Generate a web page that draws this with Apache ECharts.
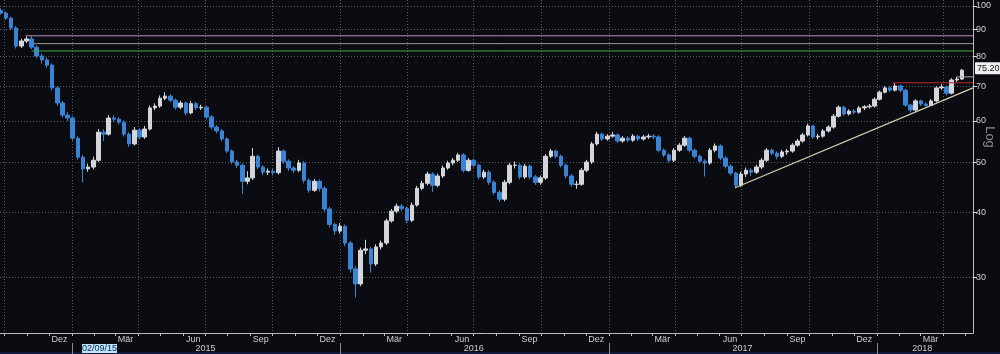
<!DOCTYPE html>
<html>
<head>
<meta charset="utf-8">
<title>Kursverlauf 2014-2018</title>
<script src="https://cdn.jsdelivr.net/npm/echarts@6.0.0/dist/echarts.min.js"></script>
<style>
  html, body { margin: 0; padding: 0; background: #0b0b12; }
  #chart { width: 1000px; height: 354px; }
</style>
</head>
<body>
<div id="chart"></div>
<script>
// Wochenkerzen, erste Woche ab 26.09.2014
const firstWeek = '2014-09-26';
const firstOpen = 98.0;
const closes = [
  96.9, 94.8, 90.7, 83.7, 85.6, 86.4, 83.3, 80.1, 78.7, 76.9,
  69.5, 65.0, 61.6, 60.8, 55.6, 51.1, 48.5, 48.9, 50.4, 57.1,
  56.6, 60.8, 60.5, 59.7, 56.6, 54.2, 57.6, 55.9, 57.9, 63.6,
  64.1, 66.4, 67.0, 65.8, 63.8, 65.0, 62.2, 64.8, 63.6, 63.8,
  61.1, 58.4, 57.4, 55.4, 52.5, 50.0, 49.3, 45.9, 46.6, 51.3,
  48.9, 47.8, 48.0, 47.7, 52.5, 50.2, 48.7, 48.2, 49.8, 46.1,
  44.1, 45.9, 44.5, 40.6, 37.9, 36.8, 37.6, 34.9, 31.1, 29.1,
  33.8, 34.0, 31.8, 34.3, 34.9, 38.5, 40.2, 41.1, 40.7, 38.6,
  41.3, 44.5, 45.5, 47.4, 45.1, 47.0, 48.7, 49.8, 50.4, 51.6,
  48.2, 50.4, 49.3, 46.8, 47.8, 45.7, 43.7, 42.4, 45.7, 49.3,
  49.3, 46.8, 49.1, 46.8, 45.7, 46.6, 51.3, 52.5, 51.3, 49.3,
  47.0, 45.3, 45.3, 48.2, 50.0, 54.2, 56.6, 55.4, 56.1, 56.4,
  54.9, 55.6, 55.1, 56.1, 55.4, 55.9, 56.1, 55.9, 52.7, 51.6,
  50.4, 52.7, 53.9, 55.6, 52.7, 51.3, 50.2, 49.8, 52.7, 53.7,
  50.9, 49.1, 47.6, 45.1, 47.4, 48.2, 47.8, 48.9, 50.4, 52.7,
  52.0, 51.3, 52.3, 52.5, 53.9, 54.9, 56.4, 58.7, 55.9, 56.1,
  57.4, 58.4, 61.3, 63.8, 61.9, 62.7, 62.4, 63.6, 63.9, 64.1,
  66.1, 68.2, 69.5, 68.8, 70.1, 68.8, 64.4, 63.0, 65.6, 64.7,
  64.3, 65.6, 69.5, 69.8, 67.9, 72.0, 72.3, 75.2
];
const lows = [
  96.2, 94.0, 89.9, 82.8, 83.0, 84.8, 82.6, 79.3, 77.4, 76.0,
  68.7, 64.2, 60.9, 60.0, 55.0, 50.5, 45.7, 47.9, 48.4, 50.0,
  54.9, 56.2, 59.8, 59.1, 56.0, 53.5, 53.8, 55.3, 55.4, 57.5,
  63.0, 63.6, 65.8, 65.2, 63.1, 63.2, 61.5, 61.8, 63.0, 63.0,
  60.4, 57.8, 56.8, 54.8, 52.0, 49.5, 48.7, 43.4, 45.3, 46.2,
  48.4, 47.2, 47.2, 47.1, 47.3, 49.6, 48.1, 47.6, 47.8, 45.5,
  43.6, 43.8, 43.9, 40.1, 37.4, 36.2, 36.4, 34.4, 30.6, 27.4,
  28.8, 33.2, 30.6, 31.5, 33.9, 34.6, 38.2, 39.8, 40.2, 38.1,
  38.3, 41.0, 44.1, 45.1, 43.8, 44.7, 46.6, 48.3, 49.3, 50.0,
  47.7, 47.9, 48.8, 46.3, 46.4, 45.2, 43.2, 41.9, 42.0, 45.3,
  48.6, 46.3, 46.4, 46.3, 45.2, 45.2, 46.2, 50.9, 50.8, 48.8,
  46.5, 44.8, 44.4, 45.0, 47.8, 49.6, 53.8, 54.9, 55.0, 55.7,
  54.4, 54.5, 54.6, 54.7, 54.9, 55.0, 55.4, 55.3, 52.2, 51.1,
  49.9, 50.0, 52.3, 53.5, 52.2, 50.8, 49.7, 46.9, 49.4, 52.2,
  50.4, 48.6, 47.1, 44.5, 44.8, 46.8, 47.0, 47.4, 48.5, 50.0,
  51.5, 50.6, 50.9, 51.6, 52.1, 53.5, 54.5, 56.0, 55.4, 55.3,
  55.7, 57.0, 58.0, 60.9, 61.4, 61.5, 61.8, 62.0, 63.0, 63.4,
  63.7, 65.7, 67.8, 68.2, 68.4, 68.2, 63.9, 62.3, 62.6, 64.1,
  64.0, 64.2, 65.2, 68.9, 67.2, 67.5, 71.4, 72.0
];
const highs = [
  99.0, 97.6, 95.3, 91.4, 86.5, 87.4, 87.6, 83.9, 81.0, 79.6,
  77.5, 70.1, 65.6, 62.5, 61.3, 56.1, 51.6, 49.6, 51.2, 57.9,
  57.8, 61.6, 61.5, 61.0, 60.2, 57.1, 58.4, 58.1, 58.7, 64.3,
  64.9, 67.2, 68.2, 67.6, 66.3, 65.7, 65.4, 65.6, 65.3, 64.5,
  64.2, 61.6, 58.9, 57.9, 55.8, 52.9, 50.5, 49.7, 48.0, 53.2,
  51.7, 49.3, 48.6, 48.5, 53.4, 52.9, 50.6, 49.1, 50.5, 50.2,
  46.5, 46.4, 46.3, 44.9, 41.0, 38.2, 38.1, 37.9, 35.2, 31.5,
  34.2, 35.4, 34.3, 34.7, 35.3, 38.9, 40.6, 41.6, 41.5, 41.0,
  41.8, 45.0, 46.0, 47.9, 47.8, 47.5, 49.2, 50.3, 50.9, 52.1,
  52.0, 50.9, 50.8, 49.7, 48.3, 48.2, 46.1, 44.1, 46.2, 49.8,
  50.1, 49.7, 49.6, 49.5, 47.2, 47.1, 51.8, 53.0, 52.9, 51.7,
  49.7, 47.4, 46.0, 48.7, 50.5, 54.7, 57.2, 57.0, 56.6, 57.2,
  56.8, 56.1, 56.1, 56.6, 56.5, 56.4, 56.7, 56.6, 56.3, 53.1,
  52.0, 53.2, 54.4, 56.1, 56.0, 53.1, 51.7, 50.6, 53.2, 54.3,
  54.1, 51.3, 49.5, 47.9, 47.9, 48.8, 48.7, 49.4, 50.9, 53.2,
  53.1, 52.4, 52.8, 53.0, 54.4, 55.4, 56.9, 59.3, 59.0, 56.7,
  57.9, 58.9, 61.9, 64.3, 64.2, 63.2, 63.3, 64.1, 64.4, 64.7,
  66.6, 68.7, 70.0, 70.1, 71.0, 70.5, 69.2, 64.8, 66.1, 66.0,
  65.2, 66.1, 70.0, 70.7, 70.2, 72.6, 73.0, 75.6
];

// Achsen
const xStart = '2014-09-25';
const xEnd = '2018-05-12';
const yMinPrice = 23.4;
const yMaxPrice = 102.7;
const yTicks = [30, 40, 50, 60, 70, 80, 90, 100];
const quarterStarts = [
  '2014-10-01', '2015-01-01', '2015-04-01', '2015-07-01', '2015-10-01',
  '2016-01-01', '2016-04-01', '2016-07-01', '2016-10-01',
  '2017-01-01', '2017-04-01', '2017-07-01', '2017-10-01',
  '2018-01-01', '2018-04-01'
];
const monthLabels = [
  ['2014-12-15', 'Dez'],
  ['2015-03-15', 'Mär'], ['2015-06-15', 'Jun'], ['2015-09-15', 'Sep'], ['2015-12-15', 'Dez'],
  ['2016-03-15', 'Mär'], ['2016-06-15', 'Jun'], ['2016-09-15', 'Sep'], ['2016-12-15', 'Dez'],
  ['2017-03-15', 'Mär'], ['2017-06-15', 'Jun'], ['2017-09-15', 'Sep'], ['2017-12-15', 'Dez'],
  ['2018-03-15', 'Mär']
];
const yearStarts = ['2015-01-01', '2016-01-01', '2017-01-01', '2018-01-01'];
const yearLabels = [
  ['2015-07-02', '2015'], ['2016-07-01', '2016'], ['2017-07-02', '2017'], ['2018-03-04', '2018']
];

// Linien
const levelPrices = [87.6, 84.6, 81.9, 71.1];
const levelStarts = ['2014-10-30', '2014-11-09', '2014-11-07', '2018-01-23'];
const trendFrom = ['2017-06-22', 44.6];
const trendTo = ['2018-05-12', 69.5];
const lastPrice = 75.2;
const lastLine = ['2018-04-20', 73.0];
const cursorDate = '02/09/15';

const DAY = 86400000;
const ts = s => Date.parse(s + 'T00:00:00Z');
const lg = v => Math.log10(v);

const t0 = ts(firstWeek);
const candles = closes.map((c, i) => {
  const o = i === 0 ? firstOpen : closes[i - 1];
  return [t0 + i * 7 * DAY, lg(o), lg(c), lg(lows[i]), lg(highs[i])];
});

const monthStarts = [];
for (let y = 2014; y <= 2018; y++) {
  for (let m = 1; m <= 12; m++) {
    const s = y + '-' + String(m).padStart(2, '0') + '-01';
    if (ts(s) >= ts(xStart) && ts(s) <= ts(xEnd)) monthStarts.push(ts(s));
  }
}
const monthMap = {};
monthLabels.forEach(d => { monthMap[ts(d[0])] = d[1]; });
const yearMap = {};
yearLabels.forEach(d => { yearMap[ts(d[0])] = d[1]; });

const xMin = ts(xStart), xMax = ts(xEnd);
const levelColors = ['#c08ab6', '#9a9a9a', '#3fa83f', '#c0282e'];
const font = 'Liberation Sans Narrow, Liberation Sans, Arial, sans-serif';
const txt = '#cfcfcf';

const baseX = { type: 'value', min: xMin, max: xMax, position: 'bottom' };

const levelSeries = levelPrices.map((p, i) => ({
  type: 'line',
  silent: true,
  symbol: 'none',
  lineStyle: { color: levelColors[i], width: 1 },
  data: [[ts(levelStarts[i]), lg(p)], [xMax, lg(p)]]
}));

const chart = echarts.init(document.getElementById('chart'));
chart.setOption({
  animation: false,
  backgroundColor: '#0b0b12',
  grid: { left: 0, right: 27, top: 0, bottom: 21, outerBoundsMode: 'none' },
  xAxis: [
    Object.assign({}, baseX, {
      axisLine: { show: true, lineStyle: { color: '#bdbdbd', width: 1 } },
      axisTick: { show: false, customValues: quarterStarts.map(ts) },
      splitLine: { show: true, lineStyle: { color: '#5a5a62', type: [1, 2], width: 1 } },
      axisLabel: {
        customValues: monthLabels.map(d => ts(d[0])),
        formatter: v => monthMap[v] || '',
        color: txt, fontSize: 9, fontFamily: font, margin: 2
      }
    }),
    Object.assign({}, baseX, {
      axisLine: { show: false },
      axisTick: { show: true, customValues: monthStarts, length: 3, lineStyle: { color: '#bdbdbd' } },
      axisLabel: { show: false },
      splitLine: { show: false }
    }),
    Object.assign({}, baseX, {
      offset: 10,
      axisLine: { show: false },
      axisTick: { show: true, customValues: yearStarts.map(ts), length: 11, lineStyle: { color: '#8a8a8a' } },
      axisLabel: {
        customValues: yearLabels.map(d => ts(d[0])),
        formatter: v => yearMap[v] || '',
        color: txt, fontSize: 9, fontFamily: font, margin: 1
      },
      splitLine: { show: false }
    })
  ],
  yAxis: {
    type: 'value',
    position: 'right',
    min: lg(yMinPrice),
    max: lg(yMaxPrice),
    axisLine: { show: true, lineStyle: { color: '#bdbdbd', width: 1 } },
    axisTick: { show: true, customValues: yTicks.map(lg), length: 4, lineStyle: { color: '#d8d8d8' } },
    axisLabel: {
      customValues: yTicks.map(lg),
      formatter: v => String(Math.round(Math.pow(10, v))),
      color: txt, fontSize: 9, fontFamily: font, margin: 3
    },
    splitLine: { show: true, lineStyle: { color: '#5a5a62', type: [1, 2], width: 1 } }
  },
  series: [
    ...levelSeries,
    {
      type: 'line',
      silent: true,
      symbol: 'none',
      lineStyle: { color: '#d6cfb2', width: 1.2 },
      data: [[ts(trendFrom[0]), lg(trendFrom[1])], [ts(trendTo[0]), lg(trendTo[1])]]
    },
    {
      type: 'line',
      silent: true,
      symbol: 'none',
      lineStyle: { color: '#a8a8a8', width: 1 },
      data: [[ts(lastLine[0]), lg(lastLine[1])], [xMax, lg(lastLine[1])]],
      markLine: {
        silent: true,
        symbol: 'none',
        lineStyle: { color: 'rgba(0,0,0,0)', width: 1 },
        label: {
          show: true,
          position: 'end',
          distance: 2,
          formatter: lastPrice.toFixed(2),
          color: '#111',
          backgroundColor: '#f0f0f0',
          padding: [2, 2, 1, 2],
          borderRadius: 1,
          fontSize: 9,
          fontFamily: font
        },
        data: [{ yAxis: lg(lastPrice) }]
      }
    },
    {
      type: 'candlestick',
      barWidth: 4,
      itemStyle: {
        color: '#d4d6da',
        borderColor: '#d4d6da',
        color0: '#3a84d4',
        borderColor0: '#3a84d4',
        borderWidth: 1
      },
      data: candles
    }
  ],
  graphic: [
    {
      type: 'text',
      x: 990, y: 137, rotation: -Math.PI / 2,
      style: { text: 'Log', fill: '#8c8c8c', font: '13px ' + font, align: 'center', verticalAlign: 'middle' }
    },
    {
      type: 'rect',
      shape: { x: 0, y: 352, width: 1000, height: 2 },
      style: { fill: '#121a3c' }
    },
    {
      type: 'rect',
      shape: { x: 82, y: 344, width: 35, height: 9 },
      style: { fill: '#bfe5f6' }
    },
    {
      type: 'text',
      x: 99.5, y: 348.5,
      style: { text: cursorDate, fill: '#0b2a6b', font: '9px ' + font, align: 'center', verticalAlign: 'middle' }
    }
  ]
});
</script>
</body>
</html>
